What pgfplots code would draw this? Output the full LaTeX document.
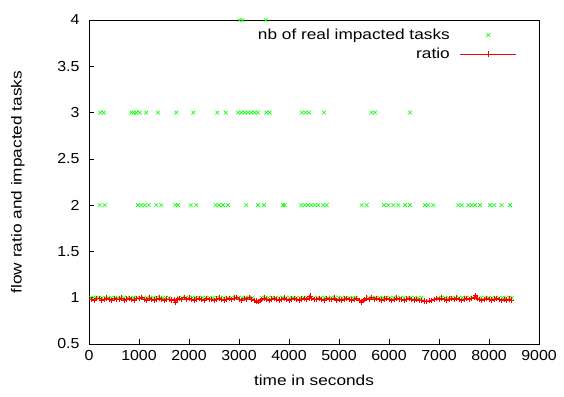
\documentclass[border=0pt]{standalone}
\usepackage{fontspec}
\setmainfont[FakeStretch=1.19]{Liberation Sans}
\newfontfamily\tickfont[FakeStretch=1.1]{Liberation Sans}
\usepackage{pgfplots}
\pgfplotsset{compat=1.18}
\definecolor{gpgreen}{RGB}{0,255,0}
\definecolor{gpred}{RGB}{255,0,0}
\newcommand\tickfs{\tickfont\fontsize{14.5}{16}\selectfont}
\newcommand\labfs{\fontsize{14.5}{16}\selectfont}
\pgfplotsset{
  greenleg/.style={legend image code/.code={\path[draw=none,fill=none] (0pt,0pt) -- (56pt,0pt); \draw[##1] plot coordinates {(28pt,0pt)};}},
  redleg/.style={legend image code/.code={\draw[mark repeat=2,mark phase=2,##1] plot coordinates {(0pt,0pt) (28pt,0pt) (56pt,0pt)};}},
}
\begin{document}
\begin{tikzpicture}
\begin{axis}[
  scale only axis, width=450pt, height=324pt,
  xmin=0, xmax=9000, ymin=0.5, ymax=4,
  xtick={0,1000,...,9000}, ytick={0.5,1,1.5,2,2.5,3,3.5,4},
  tick align=inside, xtick pos=bottom, ytick pos=left,
  major tick length=5pt,
  axis line style={line width=0.8pt}, tick style={line width=0.6pt, black},
  /pgf/number format/assume math mode=true,
  /pgf/number format/set thousands separator={},
  xticklabel style={font=\tickfs, yshift=-3pt},
  yticklabel style={font=\tickfs, xshift=-6pt},
  xlabel={time in seconds}, ylabel={flow ratio and impacted tasks},
  every axis x label/.style={at={(axis description cs:0.5,-0.111)}, anchor=center, font=\labfs},
  every axis y label/.style={at={(axis description cs:-0.158,0.5)}, rotate=90, anchor=center, font=\labfs},
  legend style={at={(axis description cs:0.958,0.985)}, anchor=north east, draw=none, fill=none,
    font=\labfs, row sep=3pt, column sep=8pt},
  legend cell align=right, legend plot pos=right,
  clip=false,
]
\addplot[only marks, mark=x, mark size=2.7pt, color=gpgreen, line width=0.6pt, greenleg]
coordinates {
(3010,4) (3070,4) (3533,4)
(227,3) (293,3) (847,3) (893,3) (947,3) (1013,3) (1147,3) (1380,3) (1747,3) (2087,3)
(2567,3) (2733,3) (2980,3) (3047,3) (3113,3) (3180,3) (3247,3) (3313,3) (3380,3)
(3547,3) (3613,3) (4260,3) (4330,3) (4400,3) (4700,3) (5650,3) (5720,3) (6420,3)
(213,2) (313,2) (980,2) (1047,2) (1113,2) (1193,2) (1347,2) (1447,2) (1727,2) (1780,2)
(2033,2) (2147,2) (2533,2) (2600,2) (2680,2) (2780,2) (3147,2) (3380,2) (3500,2)
(3880,2) (3913,2) (4247,2) (4313,2) (4380,2) (4447,2) (4513,2) (4587,2) (4687,2) (4753,2)
(5453,2) (5553,2) (5900,2) (5987,2) (6087,2) (6187,2) (6320,2) (6420,2) (6720,2) (6787,2)
(6887,2) (7387,2) (7453,2) (7587,2) (7653,2) (7720,2) (7820,2) (8020,2) (8107,2) (8253,2) (8420,2)
(40,1) (90,1) (140,1) (200,1) (260,1) (330,1) (390,1) (450,1) (520,1) (580,1) (640,1) (700,1)
(760,1) (830,1) (890,1) (960,1) (1100,1) (1160,1) (1220,1) (1290,1) (1350,1) (1420,1) (1480,1)
(1540,1) (1600,1) (1800,1) (1860,1) (1930,1) (2000,1) (2070,1) (2140,1) (2200,1) (2270,1)
(2340,1) (2410,1) (2480,1) (2550,1) (2620,1) (2700,1) (2780,1) (2850,1) (2920,1) (2990,1)
(3060,1) (3130,1) (3200,1) (3270,1) (3450,1) (3520,1) (3590,1) (3660,1) (3730,1) (3800,1)
(3870,1) (3940,1) (4010,1) (4080,1) (4150,1) (4220,1) (4290,1) (4360,1) (4500,1) (4570,1)
(4640,1) (4710,1) (4780,1) (4850,1) (4920,1) (4990,1) (5060,1) (5130,1) (5200,1) (5270,1)
(5340,1) (5600,1) (5670,1) (5740,1) (5810,1) (5880,1) (5950,1) (6020,1) (6090,1) (6160,1)
(6230,1) (6300,1) (6370,1) (6440,1) (6510,1) (6580,1) (6650,1) (6980,1) (7050,1) (7120,1)
(7190,1) (7260,1) (7330,1) (7400,1) (7470,1) (7540,1) (7610,1) (7680,1) (7850,1) (7920,1)
(7990,1) (8060,1) (8130,1) (8200,1) (8270,1) (8340,1) (8410,1) (8460,1)
};
\addlegendentry{nb of real impacted tasks}
\addplot[color=gpred, line width=1.1pt, mark=+, mark size=2.6pt, mark options={line width=0.7pt}, redleg]
coordinates {
(50,0.985) (100,0.972) (150,0.988) (200,0.995) (250,0.975) (300,0.984) (350,0.996) (400,0.982)
(450,0.974) (500,0.994) (550,0.983) (600,0.987) (650,0.997) (700,0.974) (750,0.986) (800,0.995)
(850,0.982) (900,0.976) (950,0.988) (1000,0.995) (1050,1.004) (1100,0.985) (1150,0.975) (1200,0.996)
(1250,0.983) (1300,0.976) (1350,0.987) (1400,0.996) (1450,0.984) (1500,0.974) (1550,0.986) (1600,0.982)
(1650,0.975) (1700,0.985) (1730,0.948) (1760,0.984) (1800,0.995) (1850,0.985) (1900,1.005) (1950,0.984)
(2000,0.996) (2050,0.983) (2100,0.975) (2150,0.986) (2200,0.995) (2250,0.984) (2300,0.973) (2350,0.995)
(2400,0.985) (2450,0.982) (2500,0.974) (2550,0.986) (2600,0.996) (2650,0.984) (2700,0.975) (2750,0.987)
(2800,0.995) (2850,0.983) (2900,0.996) (2950,1.005) (3000,0.985) (3050,0.974) (3100,0.995) (3150,0.984)
(3200,1.004) (3250,0.985) (3300,0.973) (3350,0.965) (3380,0.955) (3420,0.972) (3450,0.985) (3500,0.996)
(3550,0.985) (3600,0.974) (3650,0.986) (3700,0.995) (3750,0.984) (3800,0.975) (3850,0.985) (3900,0.996)
(3950,0.984) (4000,0.974) (4050,0.986) (4100,0.995) (4150,0.985) (4200,0.975) (4250,0.986) (4300,0.995)
(4350,0.984) (4400,0.996) (4420,1.018) (4450,0.995) (4500,0.985) (4550,0.983) (4600,0.995) (4650,0.984)
(4700,0.974) (4750,0.995) (4800,0.985) (4850,0.982) (4900,0.996) (4950,0.974) (5000,0.985) (5050,0.975)
(5100,0.986) (5150,0.995) (5200,0.984) (5250,0.975) (5300,0.985) (5350,0.995) (5400,0.972) (5450,0.948)
(5480,0.974) (5500,0.985) (5550,0.996) (5600,0.984) (5650,1.004) (5700,0.985) (5750,0.995) (5800,0.984)
(5850,0.975) (5900,0.986) (5950,0.995) (6000,0.984) (6050,0.974) (6100,0.985) (6150,0.996) (6200,0.985)
(6250,0.983) (6300,0.974) (6350,0.986) (6400,0.995) (6450,0.984) (6500,0.975) (6550,0.984) (6600,0.973)
(6650,0.972) (6700,0.965) (6750,0.963) (6800,0.966) (6850,0.974) (6900,0.985) (6950,0.995) (7000,0.984)
(7050,0.996) (7100,0.985) (7150,0.975) (7200,0.986) (7250,0.995) (7300,0.984) (7350,0.996) (7400,0.985)
(7450,0.974) (7500,0.986) (7550,0.995) (7600,0.984) (7650,0.995) (7700,1.005) (7730,1.025) (7760,0.995)
(7800,0.984) (7850,0.974) (7900,0.985) (7950,0.995) (8000,0.984) (8050,0.975) (8100,0.986) (8150,0.995)
(8200,0.984) (8250,0.974) (8300,0.985) (8350,0.975) (8400,0.986) (8450,0.976)
};
\addlegendentry{ratio}
\end{axis}
\pgfresetboundingbox
\useasboundingbox (-89pt,-52pt) rectangle (475pt,344pt);
\end{tikzpicture}
\end{document}
